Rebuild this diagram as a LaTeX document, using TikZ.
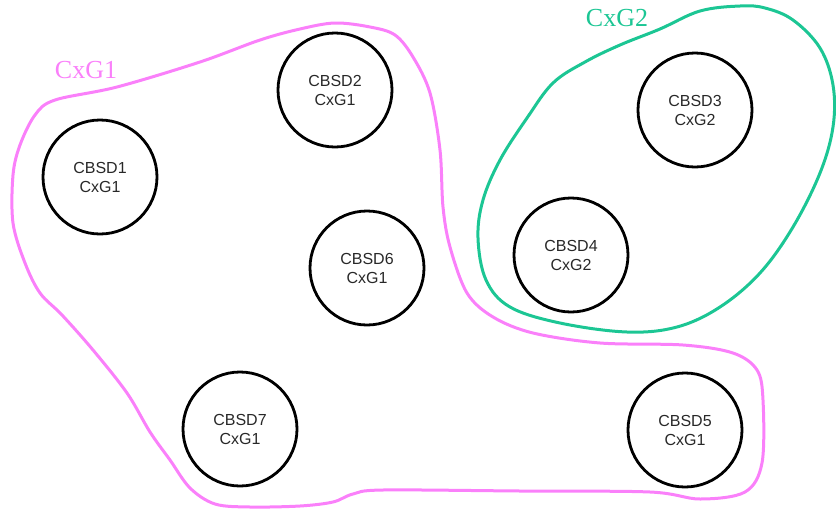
\documentclass[tikz,border=0pt]{standalone}
\usepackage{fontspec}
\setmainfont{Liberation Serif}
\setsansfont{Liberation Sans}
\definecolor{cxgpink}{RGB}{250,128,250}
\definecolor{cxggreen}{RGB}{28,198,148}
\definecolor{cbsdtext}{RGB}{40,40,40}
\tikzset{
  cbsd/.style={circle, draw=black, line width=2.8pt, minimum size=114pt, inner sep=0pt,
    align=center, text=cbsdtext, font=\sffamily\fontsize{16}{19}\selectfont},
  groupline/.style={line width=3pt, line join=round},
  grouplabel/.style={font=\fontsize{26}{30}\selectfont}
}

\begin{document}
\begin{tikzpicture}[x=1pt,y=-1pt]
		% frame
		\useasboundingbox (0,0) rectangle (836,509);
		% group CxG1
		\draw[groupline, cxgpink] plot[smooth cycle, tension=0.55] coordinates {
			(260,40) (300,29) (335,23) (370,27) (395,35) (413,57) (430,93) (440,150)
			(443,207) (450,247) (467,293) (493,317) (533,333) (600,343) (683,345)
			(733,353) (757,370) (763,400) (762,463) (745,492) (700,499) (650,492)
			(520,491) (383,490) (353,494) (333,502) (300,506) (250,507) (215,504)
			(190,488) (170,460) (150,432) (127,393) (93,350) (62,315) (40,293)
			(25,263) (13,223) (13,175) (20,145) (35,115) (55,100) (117,87) (200,62)};
		% group CxG2
		\draw[groupline, cxggreen] plot[smooth cycle, tension=0.6] coordinates {
			(740,6) (700,11) (660,29) (620,45) (585,62) (553,83) (527,118) (500,160)
			(483,200) (478,238) (486,280) (510,307) (560,323) (627,332) (677,327)
			(720,307) (760,273) (793,227) (820,173) (833,127) (833,85) (820,48)
			(793,20) (765,8)};
		% group labels
		\node[grouplabel, text=cxgpink] (g1) at (86,70) {CxG1};
		\node[grouplabel, text=cxggreen] (g2) at (617,18) {CxG2};
		% devices
		\foreach \n/\x/\y/\g in {1/100/177/1, 2/335/90/1, 3/695/110/2, 4/571/255/2,
			5/685/430/1, 6/367/268/1, 7/240/429/1}
		\node[cbsd] (cbsd\n) at (\x,\y) {CBSD\n\\CxG\g};
	\end{tikzpicture}
\end{document}
